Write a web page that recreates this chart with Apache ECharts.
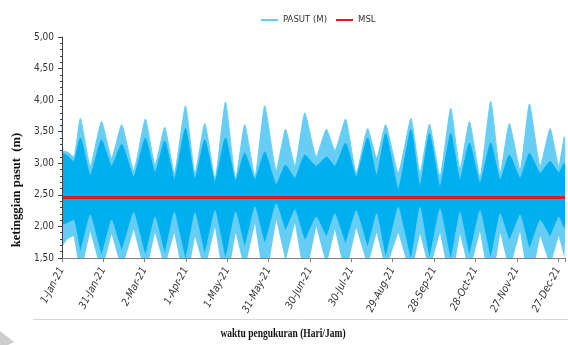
<!DOCTYPE html>
<html>
<head>
<meta charset="utf-8">
<script src="https://cdn.jsdelivr.net/npm/echarts@6/dist/echarts.min.js"></script>
<style>
html,body{margin:0;padding:0;background:#fff;}
#c{width:568px;height:345px;}
</style>
</head>
<body>
<div id="c"></div>
<script>
// ---- data ----
const tickLabels = ['1-Jan-21','31-Jan-21','2-Mar-21','1-Apr-21','1-May-21','31-May-21','30-Jun-21','30-Jul-21','29-Aug-21','28-Sep-21','28-Oct-21','27-Nov-21','27-Dec-21'];
const yTicks = [1.5, 2.0, 2.5, 3.0, 3.5, 4.0, 4.5, 5.0];
const mslValue = 2.46;
// day of year (0 = 1-Jan-21) of the spring / neap turning points of the tide envelope
const envDays = [0,0.7,4,8.5,
  13.3,20.5,28.7,36,43.3,52,60.5,67.5,74.5,81.5,
  89.6,96.5,103.6,111,118.6,126,132.6,140,147.1,155.5,
  162.2,169,176.2,184.5,191.9,198,205.7,213.5,221.8,228.3,
  234.8,244,253.2,259.8,266.6,274.3,282.1,288.8,295.6,303.3,
  311.1,318,324.6,332.4,339.2,347,354.2,360.5,364.5,365];
// highest high water envelope (m)
const outerHigh = [3.63,3.20,3.18,3.10,
  3.71,2.95,3.66,3.08,3.61,2.88,3.70,2.97,3.57,2.84,
  3.91,2.84,3.63,2.75,3.97,2.75,3.61,2.78,3.91,2.88,
  3.54,2.95,3.80,3.10,3.54,3.20,3.70,2.84,3.55,3.08,
  3.61,2.84,3.71,2.84,3.62,2.79,3.87,2.90,3.66,2.78,
  3.98,2.84,3.63,2.89,3.94,2.95,3.55,2.95,3.42,3.10];
// lower high water envelope (m)
const innerHigh = [3.18,3.15,3.12,3.02,
  3.40,2.80,3.37,2.95,3.30,2.78,3.40,2.85,3.35,2.74,
  3.55,2.74,3.37,2.70,3.40,2.72,3.16,2.74,3.18,2.66,
  2.97,2.76,3.13,2.95,3.10,2.95,3.32,2.78,3.40,2.80,
  3.47,2.58,3.53,2.62,3.47,2.62,3.47,2.73,3.32,2.68,
  3.32,2.73,3.13,2.76,3.16,2.84,3.03,2.85,3.00,2.90];
// higher low water envelope (m)
const innerLow = [2.00,2.02,2.05,2.10,
  1.60,2.18,1.55,2.10,1.62,2.22,1.55,2.15,1.58,2.22,
  1.48,2.21,1.57,2.25,1.50,2.23,1.68,2.31,1.73,2.36,
  1.94,2.26,1.78,2.15,1.84,2.20,1.73,2.25,1.68,2.20,
  1.52,2.30,1.48,2.30,1.50,2.28,1.48,2.22,1.55,2.25,
  1.50,2.20,1.78,2.18,1.65,2.10,1.84,2.15,1.95,2.00];
// lowest low water envelope (m)
const outerLow = [1.65,1.70,1.80,1.85,
  1.22,1.92,1.26,1.88,1.31,1.95,1.22,1.90,1.35,1.90,
  1.01,1.84,1.29,1.99,0.95,1.90,1.31,2.05,1.01,2.10,
  1.45,2.05,1.12,2.00,1.38,1.95,1.22,1.98,1.37,1.90,
  1.31,1.90,1.21,1.88,1.30,1.90,1.05,1.88,1.26,1.92,
  0.94,1.90,1.29,1.92,0.98,1.85,1.37,1.85,1.50,1.75];

// ---- chart ----
const LIGHT = '#66CEF4', DARK = '#00AFEF', RED = '#E3191E', WHITE = '#ffffff';
const NARROW = "'Liberation Sans Narrow','DejaVu Sans Condensed',sans-serif";
const SERIF = "'Liberation Serif','DejaVu Serif',serif";
const pts = arr => envDays.map((d, i) => [d, arr[i]]);
function band(name, arr, color, z, smooth) {
  return {
    name: name, type: 'line', data: pts(arr), symbol: 'none', z: z, silent: true,
    smooth: smooth,
    lineStyle: { width: color === WHITE ? 0 : 1, color: color },
    itemStyle: { color: color },
    areaStyle: { color: color, opacity: 1, origin: 'start' }
  };
}
const chart = echarts.init(document.getElementById('c'), null, { renderer: 'canvas' });
chart.setOption({
  animation: false,
  backgroundColor: '#ffffff',
  legend: {
    data: ['PASUT (M)', 'MSL'], top: 10, left: 256, icon: 'rect',
    itemWidth: 17, itemHeight: 2, itemGap: 9,
    textStyle: { fontFamily: NARROW, fontSize: 9.5, color: '#333' }
  },
  grid: { left: 62, right: 3, top: 37, bottom: 87 },
  xAxis: {
    type: 'value', min: 0, max: 365, interval: 30, z: 10,
    axisLine: { show: true, lineStyle: { color: '#7f7f7f', width: 1 } },
    axisTick: { show: true, length: 4, lineStyle: { color: '#7f7f7f' } },
    splitLine: { show: false },
    axisLabel: {
      rotate: 62, margin: 10, fontFamily: NARROW, fontSize: 10.5, color: '#333', fontStyle: 'italic',
      formatter: v => (v % 30 === 0 && tickLabels[v / 30]) ? tickLabels[v / 30] : ''
    }
  },
  yAxis: {
    type: 'value', min: yTicks[0], max: yTicks[yTicks.length - 1], interval: 0.5, z: 10,
    axisLine: { show: true, lineStyle: { color: '#404040', width: 1 } },
    axisTick: { show: true, length: 4, lineStyle: { color: '#404040' } },
    minorTick: { show: true, splitNumber: 5, length: 2, lineStyle: { color: '#404040' } },
    splitLine: { show: false },
    axisLabel: {
      margin: 8, fontFamily: NARROW, fontSize: 10, color: '#333',
      formatter: v => v.toFixed(2).replace('.', ',')
    }
  },
  series: [
    band('PASUT (M)', outerHigh, LIGHT, 2, 0.15),
    band('hhw', innerHigh, DARK, 3, 0.15),
    band('hlw', innerLow, LIGHT, 4, 0.1),
    band('llw', outerLow, WHITE, 5, false),
    {
      name: 'MSL', type: 'line', symbol: 'none', z: 6, silent: true,
      data: [[0, mslValue], [365, mslValue]],
      lineStyle: { color: RED, width: 3 }, itemStyle: { color: RED }
    }
  ],
  graphic: [
    { type: 'text', x: 17, y: 190, rotation: Math.PI / 2, scaleX: 1.05, z: 20,
      style: { text: 'ketinggian pasut  (m)', fontFamily: SERIF, fontWeight: 'bold', fontSize: 12,
        fill: '#111', align: 'center', verticalAlign: 'middle' } },
    { type: 'text', x: 283, y: 334, scaleX: 0.76, z: 20,
      style: { text: 'waktu pengukuran (Hari/Jam)', fontFamily: SERIF, fontWeight: 'bold', fontSize: 12.5,
        fill: '#111', align: 'center', verticalAlign: 'middle' } },
    { type: 'line', z: 1, shape: { x1: 33, y1: 319.5, x2: 568, y2: 319.5 },
      style: { stroke: '#d9d9d9', lineWidth: 1 } },
    { type: 'polygon', z: 1, shape: { points: [[0, 331], [14, 342], [8, 345], [0, 345]] },
      style: { fill: '#cdcdcd' } }
  ]
});
</script>
</body>
</html>
